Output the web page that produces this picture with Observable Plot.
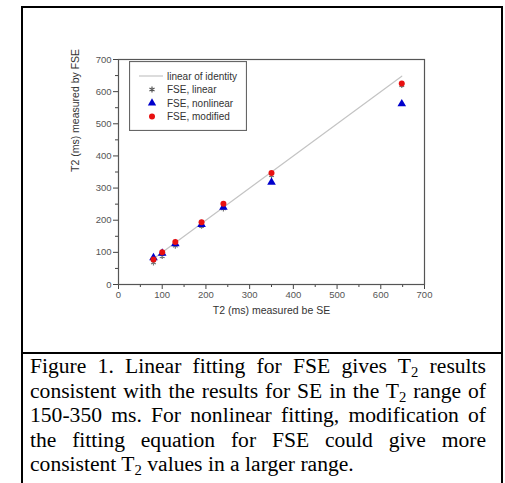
<!DOCTYPE html>
<html>
<head>
<meta charset="utf-8">
<script src="https://cdn.jsdelivr.net/npm/d3@7"></script>
<script src="https://cdn.jsdelivr.net/npm/@observablehq/plot@0.6"></script>
<style>
  html, body { margin: 0; padding: 0; background: #fff; width: 505px; height: 483px; overflow: hidden; }
  #chart { position: absolute; left: 0; top: 0; }
  #outer { position: absolute; left: 21px; top: 6px; width: 482px; height: 490px; box-sizing: border-box;
           border-top: 2px solid #000; border-left: 2px solid #000; border-right: 2px solid #000; }
  #caption { position: absolute; left: 21px; top: 352px; width: 482px; height: 140px; box-sizing: border-box;
             padding: 0 15px 0 7px;
             border-top: 2px solid #000; border-left: 2px solid #000; border-right: 2px solid #000;
             font-family: "Liberation Serif", "Times New Roman", serif; font-size: 21.6px;
             line-height: 24.5px; text-align: justify; color: #000; }
  #caption sub { font-size: 0.68em; line-height: 0; vertical-align: -0.25em; }
  #legend { position: absolute; left: 129px; top: 61px; }
</style>
</head>
<body>
<div id="outer"></div>
<div id="chart"></div>
<svg id="legend" width="118" height="70"></svg>
<div id="caption">Figure 1. Linear fitting for FSE gives T<sub>2</sub> results consistent with the results for SE in the T<sub>2</sub> range of 150-350 ms. For nonlinear fitting, modification of the fitting equation for FSE could give more consistent T<sub>2</sub> values in a larger range.</div>
<script>
// SE measured T2 (x)
const seT2 = [80, 100, 130, 190, 240, 350, 648];
// FSE measured T2 (y) per fitting method
const fseLinear = [68, 88, 120, 182, 236, 340, 620];
const fseNonlinear = [83, 97, 127, 187, 240, 318, 562];
const fseModified = [78, 100, 132, 194, 251, 347, 625];
// identity line endpoints
const identityX = [80, 648];
const majorTicks = [0, 100, 200, 300, 400, 500, 600, 700];
const minorTicks = [50, 150, 250, 350, 450, 550, 650];
const xTitle = "T2 (ms) measured be SE";
const yTitle = "T2 (ms) measured by FSE";
const legendLabels = ["linear of identity", "FSE, linear", "FSE, nonlinear", "FSE, modified"];

const linearData = seT2.map((x, i) => ({x, y: fseLinear[i]}));
const nonlinData = seT2.map((x, i) => ({x, y: fseNonlinear[i]}));
const modData = seT2.map((x, i) => ({x, y: fseModified[i]}));
const idData = identityX.map(v => ({x: v, y: v}));

const tickColor = "#444";
const chart = Plot.plot({
  width: 505,
  height: 353,
  marginLeft: 118,
  marginRight: 81,
  marginTop: 59,
  marginBottom: 69,
  style: {background: "transparent", fontFamily: "Arial, 'Liberation Sans', sans-serif", color: "#333"},
  x: {domain: [0, 700]},
  y: {domain: [0, 700]},
  marks: [
    Plot.axisX({ticks: majorTicks, tickSize: 5, tickPadding: 2, fontSize: 9.5, label: null, stroke: tickColor, fill: "#555"}),
    Plot.axisX({ticks: minorTicks, tickSize: 3, tickFormat: () => "", label: null, stroke: tickColor}),
    Plot.axisY({ticks: majorTicks, tickSize: 5, tickPadding: 2, fontSize: 9.5, label: null, stroke: tickColor, fill: "#555"}),
    Plot.axisY({ticks: minorTicks, tickSize: 3, tickFormat: () => "", label: null, stroke: tickColor}),
    Plot.frame({stroke: "#555", strokeWidth: 1.2}),
    Plot.line(idData, {x: "x", y: "y", stroke: "#c4c4c4", strokeWidth: 1.2}),
    Plot.dot(linearData, {x: "x", y: "y", symbol: "asterisk", r: 2.6, stroke: "#777", strokeWidth: 1.2}),
    Plot.dot(nonlinData, {x: "x", y: "y", symbol: "triangle", r: 3.2, fill: "#0000cc", stroke: "none"}),
    Plot.dot(modData, {x: "x", y: "y", symbol: "circle", r: 3, fill: "#e81010", stroke: "none"}),
    Plot.text([xTitle], {frameAnchor: "bottom", dy: 29, fontSize: 10.5, fill: "#333"}),
    Plot.text([yTitle], {frameAnchor: "left", dx: -43, rotate: -90, fontSize: 10.5, fill: "#333"})
  ]
});
document.getElementById("chart").appendChild(chart);

// Legend (overlay)
const lg = d3.select("#legend");
lg.append("rect").attr("x", 0.5).attr("y", 0.5).attr("width", 117).attr("height", 69)
  .attr("fill", "#fff").attr("stroke", "#666").attr("stroke-width", 1.2);
const rowY = [15, 28.5, 42, 55.5];
const symX = 23;
lg.append("line").attr("x1", 10).attr("x2", 34).attr("y1", rowY[0]).attr("y2", rowY[0])
  .attr("stroke", "#c4c4c4").attr("stroke-width", 1.2);
lg.append("path").attr("d", d3.symbol(d3.symbolAsterisk, 24)()).attr("transform", `translate(${symX},${rowY[1]})`)
  .attr("fill", "none").attr("stroke", "#555").attr("stroke-width", 1.2);
lg.append("path").attr("d", d3.symbol(d3.symbolTriangle, 30)()).attr("transform", `translate(${symX},${rowY[2]})`)
  .attr("fill", "#0000cc");
lg.append("circle").attr("cx", symX).attr("cy", rowY[3]).attr("r", 3).attr("fill", "#e81010");
legendLabels.forEach((t, i) => {
  lg.append("text").attr("x", 38).attr("y", rowY[i]).attr("dy", "0.35em")
    .attr("font-family", "Arial, 'Liberation Sans', sans-serif").attr("font-size", 10).attr("fill", "#333").text(t);
});
</script>
</body>
</html>
